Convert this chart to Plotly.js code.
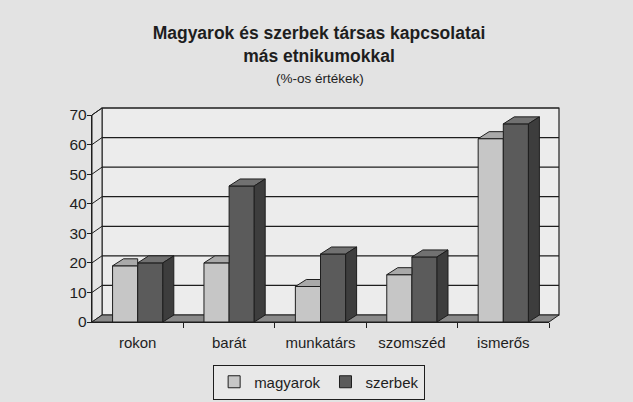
<!DOCTYPE html>
<html>
<head>
<meta charset="utf-8">
<script src="https://cdn.plot.ly/plotly-3.0.1.min.js"></script>
<style>html,body{margin:0;padding:0;background:#e3e3e3;}#chart{width:633px;height:402px;}</style>
</head>
<body>
<div id="chart"></div>
<script>
// ---- data ----
const categories = ['rokon', 'barát', 'munkatárs', 'szomszéd', 'ismerős'];
const magyarok = [19, 20, 12, 16, 62];
const szerbek = [20, 46, 23, 22, 67];
const yTicks = [0, 10, 20, 30, 40, 50, 60, 70];
const seriesNames = ['magyarok', 'szerbek'];

// ---- styling / geometry ----
const FONT = 'Liberation Sans, Arial, sans-serif';
const W = 633, H = 402;
const M = {l: 92, r: 84, t: 115, b: 80, autoexpand: false};
const plotW = W - M.l - M.r, plotH = H - M.t - M.b;
const YMAX = 70;
const barW = 0.275;                 // bar width in category units
const depthX = 0.12;                // 3D depth, category units
const depthY = 7 / plotH * YMAX;    // 3D depth, value units
const wallDX = 10 / plotW;          // wall offset in paper units
const wallDY = 7 / plotH;

const colMagFront = '#c6c6c6', colMagTop = '#a9a9a9';
const colSzFront = '#5b5b5b', colSzTop = '#717171', colSzSide = '#3d3d3d';
const edge = '#1e1e1e';

const idx = categories.map((c, i) => i);

function tops(vals, off, truncate) {
  const xs = [], ys = [];
  vals.forEach((v, i) => {
    const x0 = i + off, x1 = x0 + barW;
    const xr = truncate ? x1 : x1 + depthX;
    xs.push(x0, x0 + depthX, xr, x1, x0, null);
    ys.push(v, v + depthY, v + depthY, v, v, null);
  });
  return {xs, ys};
}
function sides(vals, off) {
  const xs = [], ys = [];
  vals.forEach((v, i) => {
    const x1 = i + off + barW;
    xs.push(x1, x1 + depthX, x1 + depthX, x1, x1, null);
    ys.push(0, depthY, v + depthY, v, 0, null);
  });
  return {xs, ys};
}

const magT = tops(magyarok, -barW, true);
const szT = tops(szerbek, 0, false);
const szS = sides(szerbek, 0);

const data = [
  {type: 'bar', name: seriesNames[0], x: idx, y: magyarok, width: barW, offset: -barW,
   marker: {color: colMagFront, line: {color: edge, width: 1}}, hoverinfo: 'y'},
  {type: 'bar', name: seriesNames[1], x: idx, y: szerbek, width: barW, offset: 0,
   marker: {color: colSzFront, line: {color: edge, width: 1}}, hoverinfo: 'y'},
  {type: 'scatter', mode: 'lines', x: magT.xs, y: magT.ys, fill: 'toself', fillcolor: colMagTop,
   line: {color: edge, width: 1}, showlegend: false, hoverinfo: 'skip'},
  {type: 'scatter', mode: 'lines', x: szT.xs, y: szT.ys, fill: 'toself', fillcolor: colSzTop,
   line: {color: edge, width: 1}, showlegend: false, hoverinfo: 'skip'},
  {type: 'scatter', mode: 'lines', x: szS.xs, y: szS.ys, fill: 'toself', fillcolor: colSzSide,
   line: {color: edge, width: 1}, showlegend: false, hoverinfo: 'skip'}
];

// walls, gridlines and floor as paper shapes
const shapes = [];
shapes.push({type: 'path', xref: 'paper', yref: 'paper', layer: 'below',
  path: `M ${wallDX} ${wallDY} L ${1 + wallDX} ${wallDY} L ${1 + wallDX} ${1 + wallDY} L ${wallDX} ${1 + wallDY} Z`,
  fillcolor: '#ececec', line: {color: edge, width: 1.2}});
shapes.push({type: 'path', xref: 'paper', yref: 'paper', layer: 'below',
  path: `M 0 0 L ${wallDX} ${wallDY} L ${wallDX} ${1 + wallDY} L 0 1 Z`,
  fillcolor: '#e6e6e6', line: {color: edge, width: 1}});
yTicks.forEach(v => {
  if (v === 0) return;
  const p = v / YMAX;
  shapes.push({type: 'line', xref: 'paper', yref: 'paper', layer: 'below',
    x0: wallDX, x1: 1 + wallDX, y0: p + wallDY, y1: p + wallDY, line: {color: edge, width: 1.2}});
  shapes.push({type: 'line', xref: 'paper', yref: 'paper', layer: 'below',
    x0: 0, x1: wallDX, y0: p, y1: p + wallDY, line: {color: edge, width: 1}});
});
// floor slab
shapes.push({type: 'path', xref: 'paper', yref: 'paper', layer: 'below',
  path: `M 0 0 L 1 0 L ${1 + wallDX} ${wallDY} L ${wallDX} ${wallDY} Z`,
  fillcolor: '#8a8a8a', line: {color: edge, width: 1}});

const layout = {
  width: W, height: H,
  margin: M,
  paper_bgcolor: '#e3e3e3',
  plot_bgcolor: 'rgba(0,0,0,0)',
  font: {family: FONT, color: '#1e1e1e'},
  title: {
    text: '<b>Magyarok és szerbek társas kapcsolatai<br>más etnikumokkal</b>',
    font: {family: FONT, size: 17.5, color: '#1e1e1e'},
    x: 319 / W, xref: 'container', xanchor: 'center',
    y: 1 - 39 / H, yref: 'container', yanchor: 'top'
  },
  annotations: [{
    text: '(%-os értékek)', xref: 'paper', yref: 'paper',
    x: (320 - M.l) / plotW, y: (H - M.b - 78) / plotH, xanchor: 'center', yanchor: 'middle',
    showarrow: false, font: {family: FONT, size: 13.5, color: '#1e1e1e'}
  }],
  barmode: 'overlay',
  xaxis: {
    range: [-0.5, 4.5], tickmode: 'array', tickvals: idx, ticktext: categories,
    ticks: '', showgrid: false, zeroline: false, showline: true, linecolor: edge, linewidth: 1.2,
    tickfont: {family: FONT, size: 15, color: '#1e1e1e'}, ticklabelstandoff: 7,
    minor: {tickmode: 'array', tickvals: [0.5, 1.5, 2.5, 3.5, 4.5], ticks: 'outside', ticklen: 5,
            tickcolor: edge, tickwidth: 1, showgrid: false},
    fixedrange: true
  },
  yaxis: {
    range: [0, YMAX], tickmode: 'array', tickvals: yTicks,
    ticks: 'outside', ticklen: 4, tickcolor: edge, tickwidth: 1,
    showgrid: false, zeroline: false, showline: true, linecolor: edge, linewidth: 1.2,
    tickfont: {family: FONT, size: 15.5, color: '#1e1e1e'}, ticklabelstandoff: -3,
    fixedrange: true
  },
  legend: {
    orientation: 'h', x: 0.497, xanchor: 'center', y: -(382 - (H - M.b)) / plotH, yanchor: 'middle',
    bgcolor: '#e8e8e8', bordercolor: edge, borderwidth: 1,
    font: {family: FONT, size: 15, color: '#1e1e1e'}, traceorder: 'normal',
    itemwidth: 30
  },
  shapes: shapes,
  showlegend: true
};

Plotly.newPlot('chart', data, layout, {displayModeBar: false, staticPlot: true});
</script>
</body>
</html>
